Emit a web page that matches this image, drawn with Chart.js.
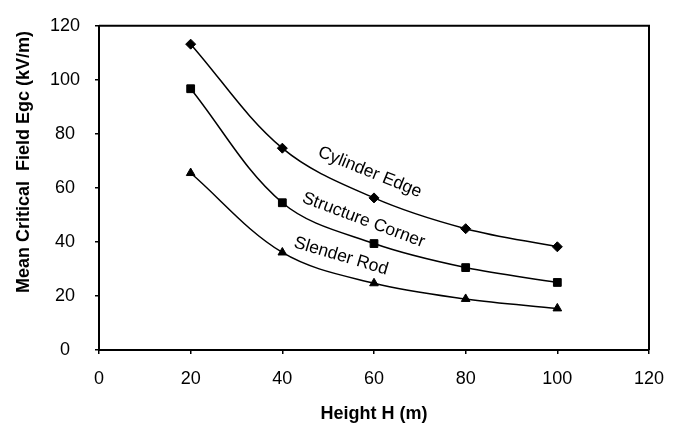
<!DOCTYPE html>
<html>
<head>
<meta charset="utf-8">
<script src="https://cdn.jsdelivr.net/npm/chart.js@4/dist/chart.umd.min.js"></script>
<style>
  html, body { margin: 0; padding: 0; background: #fff; }
  #wrap { width: 684px; height: 425px; position: relative; }
</style>
</head>
<body>
<div id="wrap"><canvas id="c" width="684" height="425"></canvas></div>
<script>
// ---- data ----
const heights = [20, 40, 60, 80, 100];
const cylinderEdge = [113.2, 74.7, 56.3, 44.9, 38.2];
const structureCorner = [96.7, 54.5, 39.4, 30.5, 25.0];
const slenderRod = [65.5, 36.1, 24.7, 18.9, 15.4];
const seriesNames = ['Cylinder Edge', 'Structure Corner', 'Slender Rod'];
const xTicks = [0, 20, 40, 60, 80, 100, 120];
const yTicks = [0, 20, 40, 60, 80, 100, 120];
const xTitle = 'Height H (m)';
const yTitle = 'Mean Critical  Field Egc (kV/m)';

const FONT = '"Liberation Sans", Arial, sans-serif';

function pts(arr) { return heights.map((h, i) => ({ x: h, y: arr[i] })); }

// curve labels: anchor (data units) and rotation (deg)
const curveLabels = [
  { text: seriesNames[0], x: 59.1, y: 65.8, angle: 22 },
  { text: seriesNames[1], x: 57.7, y: 48.1, angle: 20.5 },
  { text: seriesNames[2], x: 52.8, y: 34.7, angle: 16.5 }
];

const annot = {
  id: 'annot',
  afterDraw(chart) {
    const { ctx, chartArea: a, scales } = chart;
    ctx.save();
    // top and right frame
    ctx.strokeStyle = '#000';
    ctx.lineWidth = 2;
    ctx.beginPath();
    ctx.moveTo(a.left, a.top);
    ctx.lineTo(a.right, a.top);
    ctx.lineTo(a.right, a.bottom);
    ctx.stroke();
    // curve labels
    ctx.fillStyle = '#000';
    ctx.font = '17.5px ' + FONT;
    ctx.textAlign = 'center';
    ctx.textBaseline = 'middle';
    curveLabels.forEach(l => {
      const px = scales.x.getPixelForValue(l.x);
      const py = scales.y.getPixelForValue(l.y);
      ctx.save();
      ctx.translate(px, py);
      ctx.rotate(l.angle * Math.PI / 180);
      ctx.fillText(l.text, 0, 0);
      ctx.restore();
    });
    // y title
    ctx.font = 'bold 18px ' + FONT;
    ctx.save();
    ctx.translate(24, 162);
    ctx.rotate(-Math.PI / 2);
    ctx.fillText(yTitle, 0, 0);
    ctx.restore();
    ctx.restore();
  }
};

function ds(label, arr, style, radius) {
  return {
    label: label,
    data: pts(arr),
    borderColor: '#000',
    backgroundColor: '#000',
    borderWidth: 1.5,
    pointStyle: style,
    pointRadius: radius,
    pointHoverRadius: radius,
    pointBorderWidth: 1,
    pointBackgroundColor: '#000',
    pointBorderColor: '#000',
    tension: 0.35,
    fill: false
  };
}

new Chart(document.getElementById('c'), {
  type: 'line',
  data: {
    datasets: [
      ds(seriesNames[0], cylinderEdge, 'rectRot', 5),
      ds(seriesNames[1], structureCorner, 'rect', 5.5),
      ds(seriesNames[2], slenderRod, 'triangle', 5)
    ]
  },
  plugins: [annot],
  options: {
    responsive: false,
    animation: false,
    events: [],
    layout: { padding: { left: 0, top: 18, right: 35, bottom: 0 } },
    plugins: { legend: { display: false }, tooltip: { enabled: false } },
    scales: {
      x: {
        type: 'linear',
        min: 0, max: 120,
        afterBuildTicks: s => { s.ticks = xTicks.map(v => ({ value: v })); },
        afterFit: s => { s.height = 75; },
        ticks: { color: '#000', font: { family: FONT, size: 18 }, padding: 14, maxRotation: 0 },
        grid: { drawOnChartArea: false, drawTicks: true, tickLength: 4, color: '#000', lineWidth: 1.5 },
        border: { display: true, color: '#000', width: 2 },
        title: {
          display: true, text: xTitle, color: '#000',
          font: { family: FONT, size: 18, weight: 'bold' }, padding: { top: 7, bottom: 0 }
        }
      },
      y: {
        type: 'linear',
        min: 0, max: 120,
        afterBuildTicks: s => { s.ticks = yTicks.map(v => ({ value: v })); },
        afterFit: s => { s.width = 99; },
        ticks: { color: '#000', font: { family: FONT, size: 18 }, padding: 15, crossAlign: 'center' },
        grid: { drawOnChartArea: false, drawTicks: true, tickLength: 4, color: '#000', lineWidth: 1.5 },
        border: { display: true, color: '#000', width: 2 }
      }
    }
  }
});
</script>
</body>
</html>
